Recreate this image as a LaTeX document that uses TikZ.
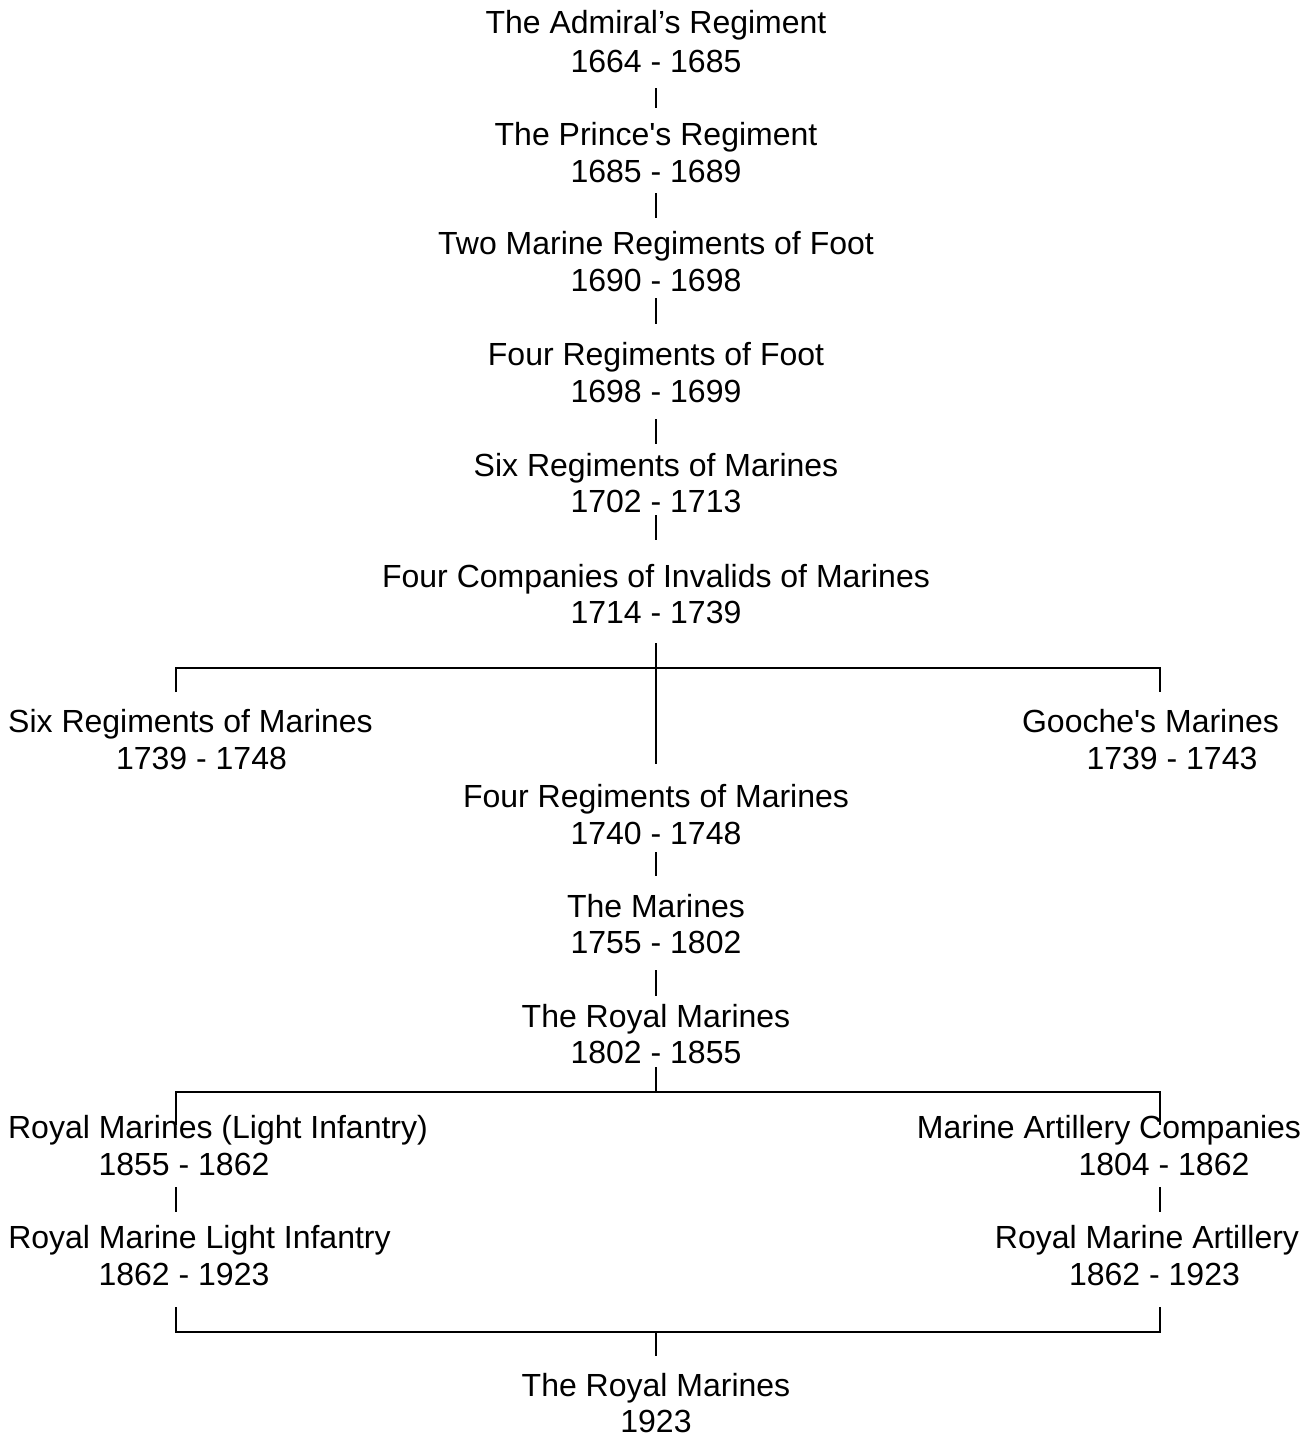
\documentclass[tikz,border=0pt]{standalone}
\usepackage{fontspec}
\setmainfont{Liberation Sans}
\usetikzlibrary{calc}
\begin{document}
\begin{tikzpicture}[x=1pt,y=-1pt,
  lbl/.style={anchor=base,inner sep=0pt,font=\fontsize{32}{37}\selectfont},
  conn/.style={draw=black,line width=1.6pt}]
\useasboundingbox[fill=white] (0,0) rectangle (1314,1437);
% centre column
\node[lbl] (a1)  at (656,34)  {The Admiral’s Regiment};
\node[lbl] (a1d) at (656,72)  {1664 - 1685};
\node[lbl] (a2)  at (656,145) {The Prince\textquotesingle s Regiment};
\node[lbl] (a2d) at (656,182) {1685 - 1689};
\node[lbl] (a3)  at (656,254) {Two Marine Regiments of Foot};
\node[lbl] (a3d) at (656,291) {1690 - 1698};
\node[lbl] (a4)  at (656,365) {Four Regiments of Foot};
\node[lbl] (a4d) at (656,402) {1698 - 1699};
\node[lbl] (a5)  at (656,476) {Six Regiments of Marines};
\node[lbl] (a5d) at (656,512) {1702 - 1713};
\node[lbl] (a6)  at (656,587) {Four Companies of Invalids of Marines};
\node[lbl] (a6d) at (656,623) {1714 - 1739};
\node[lbl] (b1)  at (190.5,732) {Six Regiments of Marines};
\node[lbl] (b1d) at (201.5,769) {1739 - 1748};
\node[lbl] (g1)  at (1150.5,732) {Gooche\textquotesingle s Marines};
\node[lbl] (g1d) at (1172,769) {1739 - 1743};
\node[lbl] (a7)  at (656,807) {Four Regiments of Marines};
\node[lbl] (a7d) at (656,844) {1740 - 1748};
\node[lbl] (a8)  at (656,917) {The Marines};
\node[lbl] (a8d) at (656,953) {1755 - 1802};
\node[lbl] (a9)  at (656,1027) {The Royal Marines};
\node[lbl] (a9d) at (656,1063) {1802 - 1855};
\node[lbl] (c1)  at (218,1138) {Royal Marines (Light Infantry)};
\node[lbl] (c1d) at (184,1175) {1855 - 1862};
\node[lbl] (c2)  at (199.5,1248) {Royal Marine Light Infantry};
\node[lbl] (c2d) at (184,1285) {1862 - 1923};
\node[lbl] (d1)  at (1109,1138) {Marine Artillery Companies};
\node[lbl] (d1d) at (1164,1175) {1804 - 1862};
\node[lbl] (d2)  at (1147,1248) {Royal Marine Artillery};
\node[lbl] (d2d) at (1154.5,1285) {1862 - 1923};
\node[lbl] (e1)  at (656,1396) {The Royal Marines};
\node[lbl] (e1d) at (656,1432) {1923};
% junctions
\coordinate (j1)  at (656,668);
\coordinate (j1l) at (176,668);
\coordinate (j1r) at (1160,668);
\coordinate (j2)  at (656,1092);
\coordinate (j2l) at (176,1092);
\coordinate (j2r) at (1160,1092);
\coordinate (j3)  at (656,1332);
\coordinate (j3l) at (176,1332);
\coordinate (j3r) at (1160,1332);
% connectors
\draw[conn] ($(a1d.base)+(0,16)$) -- ($(a2.base)+(0,-37)$);
\draw[conn] ($(a2d.base)+(0,11)$) -- ($(a3.base)+(0,-36)$);
\draw[conn] ($(a3d.base)+(0,7)$) -- ($(a4.base)+(0,-41)$);
\draw[conn] ($(a4d.base)+(0,17)$) -- ($(a5.base)+(0,-32)$);
\draw[conn] ($(a5d.base)+(0,3)$) -- ($(a6.base)+(0,-47)$);
\draw[conn] ($(a6d.base)+(0,20)$) -- ($(a7.base)+(0,-43)$);
\draw[conn] ($(j1l)+(0,24)$) -- (j1l) -- (j1r) -- ($(j1r)+(0,24)$);
\draw[conn] ($(a7d.base)+(0,8)$) -- ($(a8.base)+(0,-41)$);
\draw[conn] ($(a8d.base)+(0,17)$) -- ($(a9.base)+(0,-31)$);
\draw[conn] ($(a9d.base)+(0,4)$) -- (j2);
\draw[conn] ($(j2l)+(0,33)$) -- (j2l) -- (j2r) -- ($(j2r)+(0,33)$);
\draw[conn] ($(c1d.base -| j2l)+(0,12)$) -- ($(c2.base -| j2l)+(0,-36)$);
\draw[conn] ($(d1d.base -| j2r)+(0,12)$) -- ($(d2.base -| j2r)+(0,-36)$);
\draw[conn] ($(c2d.base -| j3l)+(0,22)$) -- (j3l) -- (j3r) -- ($(d2d.base -| j3r)+(0,22)$);
\draw[conn] (j3) -- ($(e1.base)+(0,-40)$);
\end{tikzpicture}
\end{document}
